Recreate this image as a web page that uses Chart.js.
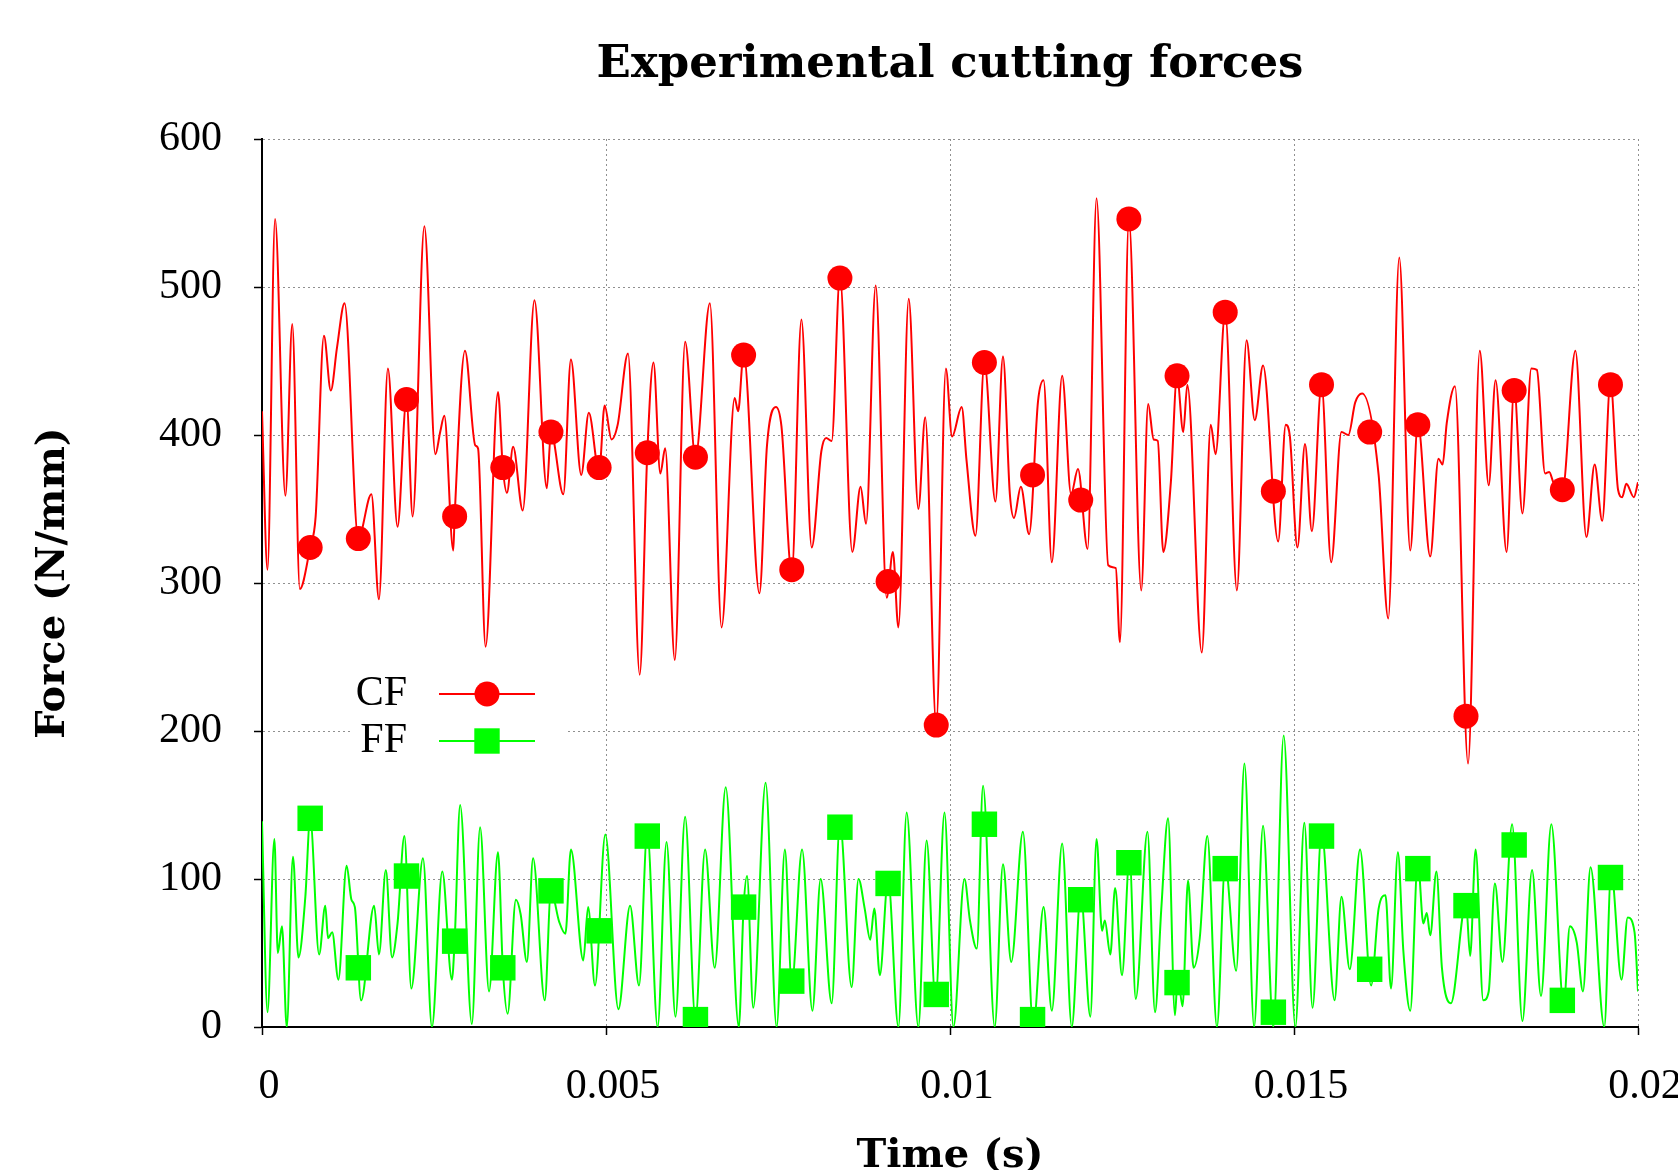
<!DOCTYPE html>
<html>
<head>
<meta charset="utf-8">
<title>Experimental cutting forces</title>
<script src="https://cdn.jsdelivr.net/npm/chart.js@4.4.0/dist/chart.umd.min.js"></script>
<style>
  html, body { margin: 0; padding: 0; background: #fff; overflow: hidden; }
  #wrap { width: 1678px; height: 1170px; overflow: hidden; position: relative; }
  #wrap canvas { position: absolute; left: 0; top: 0; }
</style>
</head>
<body>
<div id="wrap"><canvas id="forceChart" width="1678" height="1200" style="width:1678px;height:1200px"></canvas></div>
<script>
// time in milliseconds, force in N/mm
const cfTimeMs = [
  0, 0.08, 0.19, 0.34, 0.44, 0.55, 0.70, 0.78, 0.90, 1.00,
  1.09, 1.20, 1.40, 1.59, 1.70, 1.83, 1.97, 2.10, 2.19, 2.36,
  2.52, 2.59, 2.65, 2.78, 2.80, 2.95, 3.10, 3.14, 3.25, 3.43,
  3.50, 3.56, 3.65, 3.79, 3.96, 4.14, 4.20, 4.38, 4.49, 4.64,
  4.75, 4.90, 4.98, 5.08, 5.17, 5.32, 5.49, 5.60, 5.69, 5.79,
  5.86, 6.00, 6.15, 6.30, 6.51, 6.68, 6.87, 6.92, 7.00, 7.23,
  7.34, 7.47, 7.55, 7.70, 7.84, 7.99, 8.13, 8.20, 8.28, 8.40,
  8.58, 8.70, 8.78, 8.92, 9.08, 9.17, 9.25, 9.40, 9.54, 9.64,
  9.80, 9.94, 10.03, 10.17, 10.24, 10.37, 10.50, 10.66, 10.77, 10.87,
  10.93, 11.03, 11.15, 11.28, 11.36, 11.48, 11.63, 11.76, 11.86, 12.00,
  12.13, 12.30, 12.41, 12.47, 12.60, 12.78, 12.88, 12.96, 13.02, 13.10,
  13.21, 13.30, 13.39, 13.45, 13.66, 13.79, 13.86, 14.00, 14.17, 14.31,
  14.43, 14.55, 14.77, 14.88, 14.94, 15.05, 15.16, 15.26, 15.40, 15.54,
  15.69, 15.79, 15.89, 15.99, 16.23, 16.37, 16.53, 16.69, 16.80, 16.98,
  17.10, 17.16, 17.22, 17.34, 17.53, 17.70, 17.83, 17.93, 18.09, 18.20,
  18.32, 18.45, 18.53, 18.65, 18.71, 18.77, 18.90, 19.09, 19.25, 19.37,
  19.48, 19.60, 19.71, 19.77, 19.83, 19.94, 20.00
];
const cfForce = [
  416, 309, 546, 359, 475, 296, 324, 345, 467, 430,
  459, 489, 330, 360, 289, 445, 338, 424, 345, 541,
  387, 402, 413, 322, 345, 457, 393, 391, 257, 429,
  378, 361, 392, 349, 491, 364, 402, 360, 451, 373,
  415, 375, 420, 397, 407, 455, 238, 388, 449, 374,
  391, 248, 463, 385, 489, 270, 425, 416, 455, 293,
  393, 419, 406, 307, 478, 324, 389, 398, 396, 507,
  321, 365, 340, 501, 290, 321, 270, 492, 350, 412,
  204, 445, 399, 419, 383, 332, 449, 355, 453, 360,
  344, 365, 333, 423, 437, 314, 440, 360, 377, 323,
  560, 312, 310, 260, 546, 295, 421, 397, 396, 321,
  368, 440, 402, 434, 253, 407, 387, 483, 295, 464,
  410, 447, 328, 407, 399, 324, 394, 335, 434, 314,
  402, 400, 422, 428, 373, 276, 520, 322, 408, 318,
  384, 380, 408, 433, 178, 457, 366, 437, 321, 432,
  347, 445, 444, 374, 375, 368, 362, 457, 331, 380,
  342, 436, 363, 358, 367, 358, 368
];

const ffTimeMs = [
  0, 0.08, 0.18, 0.23, 0.29, 0.36, 0.45, 0.53, 0.63, 0.70,
  0.83, 0.92, 0.96, 1.02, 1.11, 1.23, 1.30, 1.35, 1.44, 1.63,
  1.70, 1.80, 1.89, 1.97, 2.07, 2.17, 2.34, 2.47, 2.62, 2.76,
  2.80, 2.88, 3.05, 3.17, 3.30, 3.43, 3.50, 3.57, 3.69, 3.76,
  3.85, 3.94, 4.11, 4.20, 4.32, 4.41, 4.49, 4.67, 4.74, 4.84,
  4.99, 5.18, 5.35, 5.48, 5.60, 5.75, 5.88, 6.01, 6.15, 6.30,
  6.44, 6.58, 6.74, 6.93, 7.00, 7.05, 7.14, 7.32, 7.48, 7.60,
  7.70, 7.85, 8.00, 8.12, 8.28, 8.40, 8.57, 8.67, 8.76, 8.84,
  8.90, 8.98, 9.10, 9.25, 9.37, 9.54, 9.66, 9.79, 9.92, 10.05,
  10.21, 10.29, 10.39, 10.48, 10.65, 10.77, 10.89, 11.06, 11.21, 11.36,
  11.48, 11.63, 11.77, 11.90, 12.04, 12.13, 12.21, 12.25, 12.33, 12.40,
  12.50, 12.61, 12.70, 12.87, 12.98, 13.07, 13.17, 13.27, 13.31, 13.38,
  13.46, 13.54, 13.63, 13.74, 13.88, 14.00, 14.16, 14.28, 14.42, 14.55,
  14.70, 14.85, 15.02, 15.15, 15.27, 15.40, 15.59, 15.69, 15.81, 15.96,
  16.12, 16.23, 16.33, 16.41, 16.51, 16.59, 16.69, 16.80, 16.88, 16.93,
  16.98, 17.07, 17.15, 17.28, 17.50, 17.56, 17.64, 17.75, 17.83, 17.92,
  18.03, 18.17, 18.32, 18.46, 18.59, 18.74, 18.92, 19.01, 19.11, 19.20,
  19.31, 19.51, 19.61, 19.76, 19.85, 19.95, 20.00
];
const ffForce = [
  139, 10, 127, 50, 68, 0, 115, 47, 88, 141,
  49, 82, 60, 64, 32, 109, 86, 81, 18, 82,
  49, 106, 47, 70, 129, 26, 114, 0, 105, 32,
  58, 150, 2, 135, 24, 118, 40, 9, 86, 76,
  44, 114, 18, 92, 71, 63, 120, 45, 81, 28,
  130, 12, 82, 28, 132, 0, 125, 7, 142, 5,
  120, 40, 162, 0, 81, 102, 13, 165, 0, 120,
  29, 120, 11, 100, 16, 138, 27, 100, 80, 59,
  80, 35, 100, 0, 145, 0, 126, 18, 145, 0,
  100, 72, 53, 163, 0, 110, 44, 132, 0, 81,
  11, 124, 0, 90, 7, 127, 65, 72, 49, 94,
  35, 115, 19, 132, 10, 79, 141, 8, 35, 14,
  99, 40, 60, 129, 0, 110, 38, 178, 0, 136,
  0, 197, 0, 138, 13, 132, 18, 88, 39, 120,
  28, 80, 89, 26, 118, 51, 11, 112, 70, 77,
  62, 105, 40, 16, 84, 48, 120, 18, 24, 97,
  44, 137, 4, 106, 21, 137, 15, 68, 57, 24,
  108, 0, 105, 32, 74, 64, 24
];

// symbols drawn every 0.7 ms on both curves
const markTimeMs = [0.7, 1.4, 2.1, 2.8, 3.5, 4.2, 4.9, 5.6, 6.3, 7.0, 7.7, 8.4, 9.1, 9.8,
                    10.5, 11.2, 11.9, 12.6, 13.3, 14.0, 14.7, 15.4, 16.1, 16.8, 17.5, 18.2, 18.9, 19.6];
const cfMarks = [324, 330, 424, 345, 378, 402, 378, 388, 385, 454, 309, 506, 301, 204,
                 449, 373, 356, 546, 440, 483, 362, 434, 402, 407, 210, 430, 363, 434];
const ffMarks = [141, 40, 102, 58, 40, 92, 65, 129, 5, 81, 31, 135, 97, 22,
                 137, 5, 86, 111, 30, 107, 10, 129, 39, 107, 82, 123, 18, 101];

const seriesNames = ['CF', 'FF'];
const seriesColors = ['#ff0000', '#00ff00'];

const xTickValues = [0, 0.005, 0.01, 0.015, 0.02];
const xTickLabels = ['0', '0.005', '0.01', '0.015', '0.02'];
const yTickValues = [0, 100, 200, 300, 400, 500, 600];
const yTickLabels = ['0', '100', '200', '300', '400', '500', '600'];

const tickFont = { family: '"Liberation Serif", serif', size: 42 };
const titleFont = { family: '"DejaVu Serif", serif', size: 40, weight: 'bold' };

const toXY = (times, vals) => times.map((t, i) => ({ x: t / 1000, y: vals[i] }));

// gnuplot style key: label, line sample, symbol
const keyPlugin = {
  id: 'gnuKey',
  afterDraw(chart) {
    const { ctx, chartArea: a } = chart;
    ctx.save();
    ctx.fillStyle = '#fff';
    ctx.fillRect(a.left + 90, a.top + 528, 213, 100);
    seriesNames.forEach((name, i) => {
      const y = a.top + 555 + i * 47;
      ctx.fillStyle = '#000';
      ctx.font = '42px "Liberation Serif"';
      ctx.textAlign = 'right';
      ctx.textBaseline = 'middle';
      ctx.fillText(name, a.left + 145, y);
      ctx.strokeStyle = seriesColors[i];
      ctx.lineWidth = 2;
      ctx.beginPath();
      ctx.moveTo(a.left + 177, y);
      ctx.lineTo(a.left + 273, y);
      ctx.stroke();
      ctx.fillStyle = seriesColors[i];
      if (i === 0) {
        ctx.beginPath();
        ctx.arc(a.left + 225, y, 12.5, 0, Math.PI * 2);
        ctx.fill();
      } else {
        ctx.fillRect(a.left + 225 - 12.7, y - 12.7, 25.4, 25.4);
      }
    });
    ctx.restore();
  }
};

const gridOpts = { color: '#909090', lineWidth: 1, tickLength: 8, tickColor: '#000', tickWidth: 1.5 };
const borderOpts = { display: true, color: '#000', width: 2, dash: [2, 3] };

new Chart(document.getElementById('forceChart'), {
  type: 'line',
  data: {
    datasets: [
      { label: 'CF marks', data: toXY(markTimeMs, cfMarks), showLine: false,
        pointStyle: 'circle', pointRadius: 12.5, pointBorderWidth: 0,
        pointBackgroundColor: seriesColors[0] },
      { label: 'FF marks', data: toXY(markTimeMs, ffMarks), showLine: false,
        pointStyle: 'rect', pointRadius: 18, pointBorderWidth: 0,
        pointBackgroundColor: seriesColors[1] },
      { label: 'CF', data: toXY(cfTimeMs, cfForce), borderColor: seriesColors[0],
        borderWidth: 2, pointRadius: 0, cubicInterpolationMode: 'monotone', fill: false },
      { label: 'FF', data: toXY(ffTimeMs, ffForce), borderColor: seriesColors[1],
        borderWidth: 2, pointRadius: 0, cubicInterpolationMode: 'monotone', fill: false }
    ]
  },
  options: {
    responsive: false,
    devicePixelRatio: 1,
    animation: false,
    events: [],
    layout: { padding: { left: 0, right: 40, top: 0, bottom: 0 } },
    plugins: {
      legend: { display: false },
      tooltip: { enabled: false },
      title: {
        display: true,
        fullSize: false,
        text: 'Experimental cutting forces',
        color: '#000',
        font: { family: '"DejaVu Serif", serif', size: 45, weight: 'bold' },
        padding: { top: 38, bottom: 47 }
      }
    },
    scales: {
      x: {
        type: 'linear',
        min: 0,
        max: 0.02,
        afterBuildTicks: s => { s.ticks = xTickValues.map(v => ({ value: v })); },
        afterFit: s => { s.height = 173; s.paddingLeft = 0; s.paddingRight = 0; },
        ticks: {
          callback: (v, i) => xTickLabels[i],
          font: tickFont, color: '#000', padding: 27, labelOffset: 7,
          maxRotation: 0, autoSkip: false
        },
        grid: gridOpts,
        border: borderOpts,
        title: { display: true, text: 'Time (s)', color: '#000', font: titleFont,
                 padding: { top: 0, bottom: 19 } }
      },
      y: {
        type: 'linear',
        min: 0,
        max: 600,
        afterBuildTicks: s => { s.ticks = yTickValues.map(v => ({ value: v })); },
        afterFit: s => { s.width = 262; s.paddingTop = 0; s.paddingBottom = 0; },
        ticks: {
          callback: (v, i) => yTickLabels[i],
          font: tickFont, color: '#000', padding: 32
        },
        grid: gridOpts,
        border: borderOpts,
        title: { display: true, text: 'Force (N/mm)', color: '#000', font: titleFont,
                 padding: { top: 30, bottom: 0 } }
      }
    }
  },
  plugins: [keyPlugin]
});
</script>
</body>
</html>
